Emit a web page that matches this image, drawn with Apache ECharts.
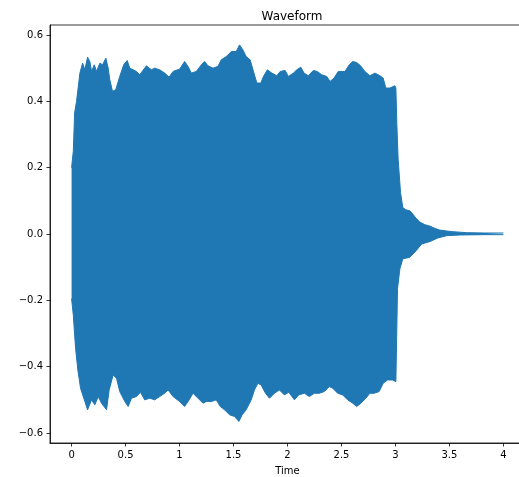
<!DOCTYPE html>
<html>
<head>
<meta charset="utf-8">
<script src="https://cdn.jsdelivr.net/npm/echarts@6/dist/echarts.min.js"></script>
<style>
  html, body { margin: 0; padding: 0; background: #fff; }
  #main { width: 519px; height: 477px; }
</style>
</head>
<body>
<div id="main"></div>
<script>
// upper envelope of the waveform (seconds, amplitude)
var topTime = [0, 0.016, 0.028, 0.046, 0.056, 0.077, 0.102, 0.123, 0.148, 0.169, 0.185, 0.210, 0.231, 0.262, 0.287, 0.317, 0.339, 0.354, 0.379, 0.409, 0.446, 0.483, 0.515, 0.539, 0.570, 0.601, 0.631, 0.693, 0.739, 0.770, 0.816, 0.862, 0.903, 0.940, 1.001, 1.047, 1.079, 1.109, 1.155, 1.202, 1.232, 1.263, 1.310, 1.356, 1.386, 1.433, 1.479, 1.525, 1.556, 1.587, 1.617, 1.654, 1.685, 1.716, 1.753, 1.777, 1.814, 1.855, 1.901, 1.932, 1.978, 2.008, 2.055, 2.086, 2.123, 2.153, 2.193, 2.239, 2.276, 2.317, 2.363, 2.394, 2.431, 2.470, 2.532, 2.572, 2.604, 2.641, 2.677, 2.717, 2.763, 2.810, 2.856, 2.886, 2.911, 2.948, 2.995, 3.004, 3.013, 3.025, 3.047, 3.068, 3.096, 3.133, 3.161, 3.189, 3.226, 3.272, 3.318, 3.364, 3.410, 3.475, 3.531, 3.660, 3.826, 4.0];
var topAmp = [0.20, 0.25, 0.365, 0.40, 0.405, 0.485, 0.515, 0.495, 0.533, 0.52, 0.49, 0.51, 0.49, 0.515, 0.51, 0.53, 0.50, 0.465, 0.43, 0.435, 0.475, 0.51, 0.523, 0.50, 0.495, 0.49, 0.48, 0.507, 0.495, 0.50, 0.495, 0.485, 0.473, 0.49, 0.497, 0.52, 0.505, 0.485, 0.49, 0.51, 0.52, 0.507, 0.50, 0.505, 0.525, 0.535, 0.55, 0.55, 0.57, 0.555, 0.535, 0.525, 0.49, 0.455, 0.455, 0.475, 0.495, 0.485, 0.477, 0.49, 0.493, 0.475, 0.485, 0.495, 0.503, 0.485, 0.477, 0.493, 0.49, 0.48, 0.475, 0.46, 0.47, 0.49, 0.49, 0.51, 0.52, 0.517, 0.507, 0.49, 0.477, 0.485, 0.477, 0.47, 0.44, 0.44, 0.447, 0.44, 0.33, 0.225, 0.125, 0.08, 0.073, 0.07, 0.06, 0.048, 0.036, 0.028, 0.024, 0.017, 0.012, 0.009, 0.007, 0.004, 0.003, 0.003];

// lower envelope
var bottomTime = [0, 0.016, 0.037, 0.058, 0.083, 0.092, 0.123, 0.148, 0.185, 0.215, 0.247, 0.277, 0.324, 0.348, 0.385, 0.416, 0.446, 0.493, 0.524, 0.555, 0.601, 0.638, 0.677, 0.724, 0.770, 0.816, 0.862, 0.894, 0.940, 1.001, 1.047, 1.079, 1.125, 1.171, 1.217, 1.248, 1.294, 1.340, 1.377, 1.417, 1.463, 1.509, 1.550, 1.580, 1.617, 1.664, 1.694, 1.726, 1.756, 1.796, 1.833, 1.879, 1.925, 1.971, 2.012, 2.064, 2.104, 2.156, 2.202, 2.249, 2.295, 2.341, 2.387, 2.419, 2.465, 2.511, 2.557, 2.604, 2.641, 2.680, 2.726, 2.763, 2.803, 2.849, 2.886, 2.927, 2.973, 3.004, 3.013, 3.019, 3.041, 3.068, 3.133, 3.179, 3.244, 3.318, 3.392, 3.475, 3.595, 3.826, 4.0];
var bottomAmp = [-0.195, -0.245, -0.345, -0.41, -0.465, -0.47, -0.505, -0.53, -0.50, -0.515, -0.49, -0.51, -0.53, -0.47, -0.425, -0.435, -0.475, -0.505, -0.52, -0.495, -0.49, -0.477, -0.50, -0.495, -0.50, -0.49, -0.48, -0.47, -0.49, -0.505, -0.52, -0.505, -0.48, -0.495, -0.51, -0.505, -0.505, -0.50, -0.52, -0.53, -0.545, -0.55, -0.565, -0.545, -0.53, -0.50, -0.47, -0.45, -0.455, -0.48, -0.495, -0.48, -0.47, -0.485, -0.477, -0.50, -0.485, -0.48, -0.49, -0.48, -0.48, -0.475, -0.46, -0.465, -0.48, -0.485, -0.50, -0.51, -0.52, -0.51, -0.495, -0.48, -0.48, -0.475, -0.45, -0.44, -0.44, -0.445, -0.28, -0.165, -0.105, -0.075, -0.07, -0.055, -0.03, -0.023, -0.012, -0.005, -0.003, -0.002, -0.002];

var xTicks = [0, 0.5, 1, 1.5, 2, 2.5, 3, 3.5, 4];
var yTicks = [-0.6, -0.4, -0.2, 0, 0.2, 0.4, 0.6];

function zip(a, b) {
    return a.map(function (t, i) { return [t, b[i]]; });
}

var chart = echarts.init(document.getElementById('main'));
var blue = '#1f77b4';
var font = 'DejaVu Sans';

var option = {
    animation: false,
    title: {
        text: 'Waveform',
        left: 287,
        top: 6,
        textAlign: 'center',
        textStyle: { fontFamily: font, fontSize: 12, fontWeight: 'normal', color: '#000' }
    },
    grid: {
        left: 50, top: 25, width: 475, height: 418,
        outerBoundsMode: 'none',
        show: true, borderColor: '#000', borderWidth: 0.8,
        containLabel: false
    },
    xAxis: {
        type: 'value',
        min: -0.2, max: 4.2,
        name: 'Time',
        nameLocation: 'middle',
        nameGap: 23,
        nameTextStyle: { fontFamily: font, fontSize: 10, color: '#000' },
        axisLine: { show: true, onZero: false, lineStyle: { color: '#000', width: 0.8 } },
        axisTick: { show: true, length: 3.5, customValues: xTicks, lineStyle: { color: '#000', width: 0.8 } },
        axisLabel: {
            customValues: xTicks, margin: 7,
            fontFamily: font, fontSize: 10, color: '#000',
            formatter: function (v) { return String(v); }
        },
        splitLine: { show: false }
    },
    yAxis: {
        type: 'value',
        min: -0.63, max: 0.63,
        axisLine: { show: true, onZero: false, lineStyle: { color: '#000', width: 0.8 } },
        axisTick: { show: true, length: 3.5, customValues: yTicks, lineStyle: { color: '#000', width: 0.8 } },
        axisLabel: {
            customValues: yTicks, margin: 7,
            fontFamily: font, fontSize: 10, color: '#000',
            formatter: function (v) { return v.toFixed(1).replace('-', '\u2212'); }
        },
        splitLine: { show: false }
    },
    series: [
        {
            type: 'line',
            data: zip(topTime, topAmp),
            showSymbol: false,
            lineStyle: { color: blue, width: 1 },
            areaStyle: { color: blue, opacity: 1, origin: 0 },
            z: 2
        },
        {
            type: 'line',
            data: zip(bottomTime, bottomAmp),
            showSymbol: false,
            lineStyle: { color: blue, width: 1 },
            areaStyle: { color: blue, opacity: 1, origin: 0 },
            z: 2
        }
    ]
};

chart.setOption(option);
</script>
</body>
</html>
